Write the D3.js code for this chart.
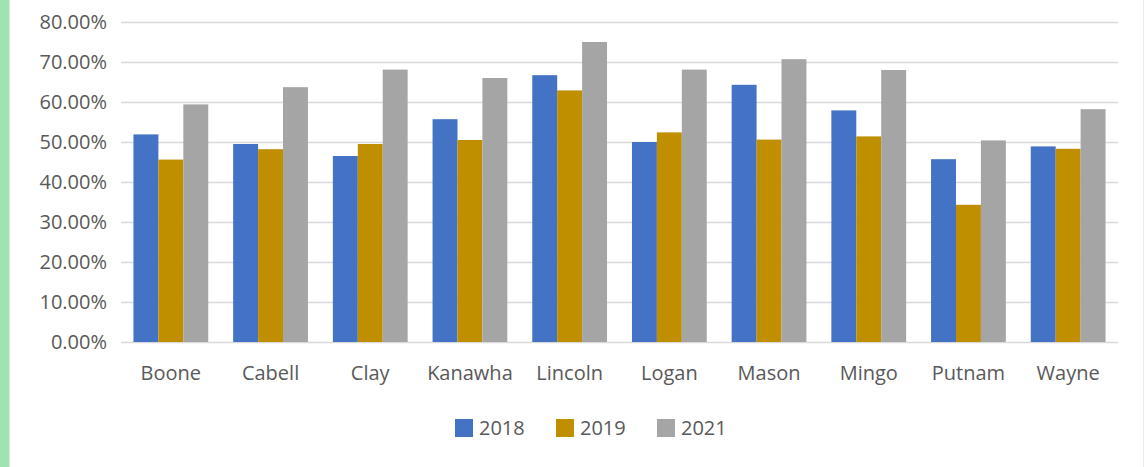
<!DOCTYPE html>
<html>
<head>
<meta charset="utf-8">
<script src="https://cdn.jsdelivr.net/npm/d3@7"></script>
<style>
  body { margin: 0; background: #fff; }
  svg { display: block; font-family: "Open Sans", "Noto Sans", sans-serif; }
</style>
</head>
<body>
<svg id="chart" width="1145" height="467"></svg>
<script>

var counties = ['Boone', 'Cabell', 'Clay', 'Kanawha', 'Lincoln', 'Logan', 'Mason', 'Mingo', 'Putnam', 'Wayne'];
var years = ['2018', '2019', '2021'];
var v2018 = [0.519, 0.495, 0.465, 0.557, 0.667, 0.500, 0.643, 0.579, 0.457, 0.489];
var v2019 = [0.456, 0.482, 0.495, 0.505, 0.629, 0.524, 0.506, 0.514, 0.343, 0.483];
var v2021 = [0.594, 0.637, 0.681, 0.660, 0.750, 0.681, 0.707, 0.680, 0.504, 0.582];
var yTicks = [0, 0.1, 0.2, 0.3, 0.4, 0.5, 0.6, 0.7, 0.8];

var colors = { '2018': '#4472c4', '2019': '#bf8f00', '2021': '#a5a5a5' };
var series = { '2018': v2018, '2019': v2019, '2021': v2021 };

function draw_chart(){

    var svg = d3.select('#chart');

    // page edges from the screenshot
    svg.append('rect').attr('x', 0).attr('y', 0).attr('width', 9).attr('height', 467).attr('fill', '#a0e3b2');
    svg.append('line').attr('x1', 9.5).attr('x2', 9.5).attr('y1', 0).attr('y2', 467).attr('stroke', '#e3e3e3');
    svg.append('line').attr('x1', 1143.5).attr('x2', 1143.5).attr('y1', 0).attr('y2', 467).attr('stroke', '#ececec');

    var x0 = d3.scaleBand().domain(counties).range([121, 1118]).paddingInner(0.25).paddingOuter(0.125);
    var x1 = d3.scaleBand().domain(years).range([0, x0.bandwidth()]);
    var y = d3.scaleLinear().domain([0, 0.8]).range([342, 22]);

    // gridlines
    svg.append('g').selectAll('line').data(yTicks).enter().append('line')
        .attr('x1', 121).attr('x2', 1118)
        .attr('y1', function(d){ return Math.round(y(d)) + 0.5; })
        .attr('y2', function(d){ return Math.round(y(d)) + 0.5; })
        .attr('stroke', '#d9d9d9')
        .attr('stroke-width', 1.5);

    // y labels
    var fmt = d3.format('.2%');
    svg.append('g').selectAll('text').data(yTicks).enter().append('text')
        .attr('x', 107)
        .attr('y', function(d){ return y(d); })
        .attr('dy', '.35em')
        .attr('text-anchor', 'end')
        .style('font-size', '20px')
        .style('fill', '#595959')
        .text(function(d){ return fmt(d); });

    // bars
    var groups = svg.append('g').selectAll('g').data(counties).enter().append('g')
        .attr('transform', function(d){ return 'translate(' + x0(d) + ',0)'; });

    groups.selectAll('rect').data(function(d, i){
            return years.map(function(yr){ return { year: yr, value: series[yr][i] }; });
        }).enter().append('rect')
        .attr('x', function(d){ return x1(d.year); })
        .attr('y', function(d){ return y(d.value); })
        .attr('width', x1.bandwidth())
        .attr('height', function(d){ return y(0) - y(d.value); })
        .attr('fill', function(d){ return colors[d.year]; });

    // category labels
    svg.append('g').selectAll('text').data(counties).enter().append('text')
        .attr('x', function(d){ return x0(d) + x0.bandwidth() / 2; })
        .attr('y', 380)
        .attr('text-anchor', 'middle')
        .style('font-size', '20px')
        .style('fill', '#595959')
        .text(function(d){ return d; });

    // legend
    var legend = svg.append('g').selectAll('g').data(years).enter().append('g')
        .attr('transform', function(d, i){ return 'translate(' + (455 + 101 * i) + ',0)'; });
    legend.append('rect')
        .attr('x', 0).attr('y', 419).attr('width', 18).attr('height', 18)
        .attr('fill', function(d){ return colors[d]; });
    legend.append('text')
        .attr('x', 24).attr('y', 435)
        .style('font-size', '20px')
        .style('fill', '#595959')
        .text(function(d){ return d; });
}

draw_chart();
</script>
</body>
</html>
